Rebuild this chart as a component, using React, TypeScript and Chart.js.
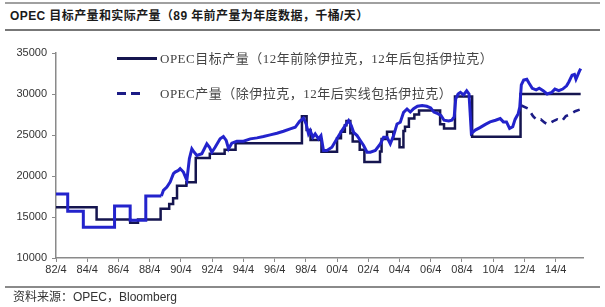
import React, { useEffect, useRef } from "react";
import { Chart, registerables } from "chart.js";

Chart.register(...registerables);

const TITLE = "OPEC 目标产量和实际产量（89 年前产量为年度数据，千桶/天）";
const SOURCE = "资料来源：OPEC，Bloomberg";
const LEGEND_TARGET = "OPEC目标产量（12年前除伊拉克，12年后包括伊拉克）";
const LEGEND_OUTPUT = "OPEC产量（除伊拉克，12年后实线包括伊拉克）";

const xTickLabels = ["82/4", "84/4", "86/4", "88/4", "90/4", "92/4", "94/4", "96/4", "98/4", "00/4", "02/4", "04/4", "06/4", "08/4", "10/4", "12/4", "14/4"];
const xTickValues = [1982.25, 1984.25, 1986.25, 1988.25, 1990.25, 1992.25, 1994.25, 1996.25, 1998.25, 2000.25, 2002.25, 2004.25, 2006.25, 2008.25, 2010.25, 2012.25, 2014.25];
const yTickValues = [10000, 15000, 20000, 25000, 30000, 35000];

// OPEC target (quota), stepped: value holds from its date until next date
const targetDates = [1982.25, 1984.85, 1987.0, 1987.5, 1988.95, 1989.5, 1989.75, 1990.0, 1990.6, 1991.2, 1992.1, 1993.05, 1993.75, 1998.0, 1998.3, 1998.55, 1999.25, 2000.25, 2000.5, 2000.75, 2000.85, 2001.1, 2001.25, 2001.7, 2002.0, 2003.0, 2003.1, 2003.45, 2003.85, 2004.25, 2004.5, 2004.6, 2004.85, 2005.2, 2005.5, 2006.85, 2007.1, 2007.8, 2008.9, 2012.0, 2015.85];
const targetValues = [16200, 14700, 14300, 14700, 16000, 16600, 17300, 18800, 19250, 22200, 22700, 23200, 24000, 27300, 25600, 24400, 22950, 24600, 25400, 26200, 26700, 25200, 24200, 23200, 21700, 23000, 24500, 25400, 24500, 23500, 25500, 26000, 27000, 27500, 28000, 26300, 25800, 29700, 24800, 30000, 30000];

// OPEC output before 1989: annual data (stepped)
const annualDates = [1982.25, 1983.0, 1984.0, 1985.0, 1986.0, 1987.0, 1988.0, 1989.0];
const annualOutput = [17800, 15700, 13750, 13750, 16350, 14600, 17550, 17550];

// OPEC output from 1989: monthly data (ex-Iraq until 2012, incl. Iraq after)
const monthlyDates = [
  1989.0, 1989.13, 1989.35, 1989.56, 1989.77, 1989.88, 1990.09, 1990.2, 1990.41, 1990.63,
  1990.79, 1990.95, 1991.1, 1991.27, 1991.59, 1991.91, 1992.08, 1992.23, 1992.44, 1992.76,
  1992.97, 1993.15, 1993.3, 1993.51, 1993.83, 1994.26, 1994.69, 1995.12, 1995.54, 1995.97,
  1996.4, 1996.82, 1997.25, 1997.57, 1997.85, 1998.1, 1998.27, 1998.42, 1998.53, 1998.7,
  1998.85, 1999.06, 1999.22, 1999.38, 1999.6, 1999.92, 2000.24, 2000.56, 2000.77, 2000.99,
  2001.16, 2001.31, 2001.53, 2001.74, 2001.95, 2002.17, 2002.38, 2002.7, 2003.02, 2003.23,
  2003.45, 2003.66, 2003.87, 2004.09, 2004.3, 2004.51, 2004.73, 2004.94, 2005.15, 2005.4,
  2005.7, 2006.0, 2006.25, 2006.45, 2006.7, 2006.9, 2007.1, 2007.4, 2007.6, 2007.75,
  2007.85, 2008.0, 2008.15, 2008.35, 2008.55, 2008.7, 2008.85, 2009.1, 2009.4, 2009.75,
  2010.05, 2010.4, 2010.7, 2010.9, 2011.1, 2011.3, 2011.5, 2011.65, 2011.85, 2011.95,
  2012.05, 2012.2, 2012.4, 2012.55, 2012.75, 2013.0, 2013.2, 2013.45, 2013.7, 2014.0,
  2014.2, 2014.45, 2014.7, 2014.95, 2015.1, 2015.3, 2015.45, 2015.55, 2015.75, 2015.85
];
const monthlyOutput = [
  17550, 18250, 18650, 19260, 20280, 20480, 20680, 20890, 20480, 19470,
  22100, 23320, 22900, 22500, 22710, 23920, 23510, 22900, 23510, 24530,
  24810, 24330, 23320, 24000, 24240, 24240, 24530, 24650, 24810, 25020,
  25210, 25460, 25750, 25940, 26670, 27050, 26350, 25140, 25540, 24730,
  25140, 24530, 24930, 23110, 23110, 23510, 24530, 25540, 26150, 26750,
  26150, 25330, 24930, 24330, 23720, 22900, 22900, 23110, 23920, 24730,
  24730, 23920, 24930, 26350, 26550, 27760, 28170, 27800, 28200, 28500,
  28600, 28500, 28300, 27800, 27600, 27400, 26800, 26700, 26800, 27200,
  29400, 30000, 30200, 29900, 30400, 30000, 25200, 25600, 25900, 26300,
  26600, 26800, 27000, 26600, 26600, 25800, 26000, 26900, 27600, 28400,
  31100, 31700, 31800, 31300, 30700, 30500, 30700, 30400, 30000, 30200,
  30600, 30400, 30600, 31000, 31500, 32300, 32400, 31800, 32700, 33100
];

// OPEC output excluding Iraq after 2012 (dashed)
const exIraqDates = [2012.05, 2012.5, 2012.8, 2013.05, 2013.3, 2013.55, 2013.75, 2014.1, 2014.35, 2014.65, 2014.9, 2015.15, 2015.5, 2015.8];
const exIraqOutput = [28600, 28200, 27300, 26800, 26900, 26500, 26300, 26700, 26900, 26700, 27300, 27500, 27900, 28100];

const TARGET_COLOR = "#15154f";
const OUTPUT_COLOR = "#2323cc";
const DASH_COLOR = "#1c1c86";

const pts = (xs: number[], ys: number[]) => xs.map((x, i) => ({ x, y: ys[i] }));

export default function App() {
  const ref = useRef<HTMLCanvasElement | null>(null);

  useEffect(() => {
    if (!ref.current) return;
    const chart = new Chart(ref.current, {
      type: "line",
      data: {
        datasets: [
          {
            label: "monthly",
            data: pts(monthlyDates, monthlyOutput),
            borderColor: OUTPUT_COLOR,
            borderWidth: 3,
            pointRadius: 0,
            order: 0,
            tension: 0,
          },
          {
            label: "annual",
            data: pts(annualDates, annualOutput),
            borderColor: OUTPUT_COLOR,
            borderWidth: 3,
            pointRadius: 0,
            stepped: true,
            order: 0,
          },
          {
            label: "exIraq",
            data: pts(exIraqDates, exIraqOutput),
            borderColor: DASH_COLOR,
            borderWidth: 2.6,
            borderDash: [7, 6],
            pointRadius: 0,
            order: 0,
          },
          {
            label: "target",
            data: pts(targetDates, targetValues),
            borderColor: TARGET_COLOR,
            borderWidth: 2.5,
            pointRadius: 0,
            stepped: true,
            order: 1,
          },
        ],
      },
      options: {
        animation: false,
        responsive: false,
        devicePixelRatio: 1,
        parsing: false,
        layout: { padding: { left: 0, top: 53, right: 22, bottom: 25 } },
        plugins: { legend: { display: false }, tooltip: { enabled: false } },
        scales: {
          x: {
            type: "linear",
            min: 1982.25,
            max: 2016.0,
            grid: { display: true, drawOnChartArea: false, drawTicks: true, tickLength: 4, color: "#8a8a8a", lineWidth: 1 },
            border: { display: true, color: "#8a8a8a", width: 1.5 },
            ticks: {
              autoSkip: false,
              maxRotation: 0,
              minRotation: 0,
              padding: 1,
              color: "#333",
              font: { family: "'Liberation Sans', Arial, sans-serif", size: 11 },
              callback: (_v: any, i: number) => xTickLabels[i],
            },
            afterBuildTicks: (s: any) => {
              s.ticks = xTickValues.map((v) => ({ value: v }));
            },
            afterFit: (s: any) => {
              s.height = 24;
              s.paddingLeft = 0;
              s.paddingRight = 0;
            },
          },
          y: {
            type: "linear",
            min: 10000,
            max: 35000,
            grid: { display: true, drawOnChartArea: false, drawTicks: true, tickLength: 4, color: "#8a8a8a", lineWidth: 1 },
            border: { display: true, color: "#8a8a8a", width: 1.5 },
            ticks: {
              padding: 5,
              color: "#333",
              font: { family: "'Liberation Sans', Arial, sans-serif", size: 11 },
              callback: (v: any) => String(v),
            },
            afterBuildTicks: (s: any) => {
              s.ticks = yTickValues.map((v) => ({ value: v }));
            },
            afterFit: (s: any) => {
              s.width = 56;
              s.paddingTop = 0;
              s.paddingBottom = 0;
            },
          },
        },
      },
    });
    return () => chart.destroy();
  }, []);

  const line = (top: number, color: string, h: number): React.CSSProperties => ({
    position: "absolute", left: 5, width: 595, top, height: h, background: color,
  });
  const cjk = "'Liberation Sans', Arial, 'Noto Sans CJK SC', sans-serif";
  const legendFont = "'Liberation Serif', 'Noto Sans CJK SC', serif";

  return (
    <div style={{ position: "absolute", left: 0, top: 0, width: 605, height: 307, background: "#fff", overflow: "hidden" }}>
      <div style={line(2, "#a0a0a0", 2)} />
      <div style={{ position: "absolute", left: 10, top: 7, height: 18, lineHeight: "18px", fontFamily: cjk, fontWeight: "bold", fontSize: 12, letterSpacing: 0.4, color: "#1a1a1a", whiteSpace: "nowrap" }}>{TITLE}</div>
      <div style={line(29, "#777", 2)} />
      <canvas ref={ref} width={605} height={307} style={{ position: "absolute", left: 0, top: 0, width: 605, height: 307 }} />
      <div style={{ position: "absolute", left: 117, top: 57, width: 40, height: 3, background: TARGET_COLOR }} />
      <div style={{ position: "absolute", left: 160, top: 50, height: 18, lineHeight: "18px", fontFamily: legendFont, fontSize: 13, letterSpacing: 0.5, color: "#444", whiteSpace: "nowrap" }}>{LEGEND_TARGET}</div>
      <div style={{ position: "absolute", left: 117, top: 92, width: 9, height: 3, background: DASH_COLOR }} />
      <div style={{ position: "absolute", left: 131, top: 92, width: 9, height: 3, background: DASH_COLOR }} />
      <div style={{ position: "absolute", left: 160, top: 85, height: 18, lineHeight: "18px", fontFamily: legendFont, fontSize: 13, letterSpacing: 0.5, color: "#444", whiteSpace: "nowrap" }}>{LEGEND_OUTPUT}</div>
      <div style={line(286, "#8a8a8a", 1.5)} />
      <div style={{ position: "absolute", left: 13, top: 289, height: 16, lineHeight: "16px", fontFamily: cjk, fontSize: 12, color: "#333", whiteSpace: "nowrap" }}>{SOURCE}</div>
    </div>
  );
}
